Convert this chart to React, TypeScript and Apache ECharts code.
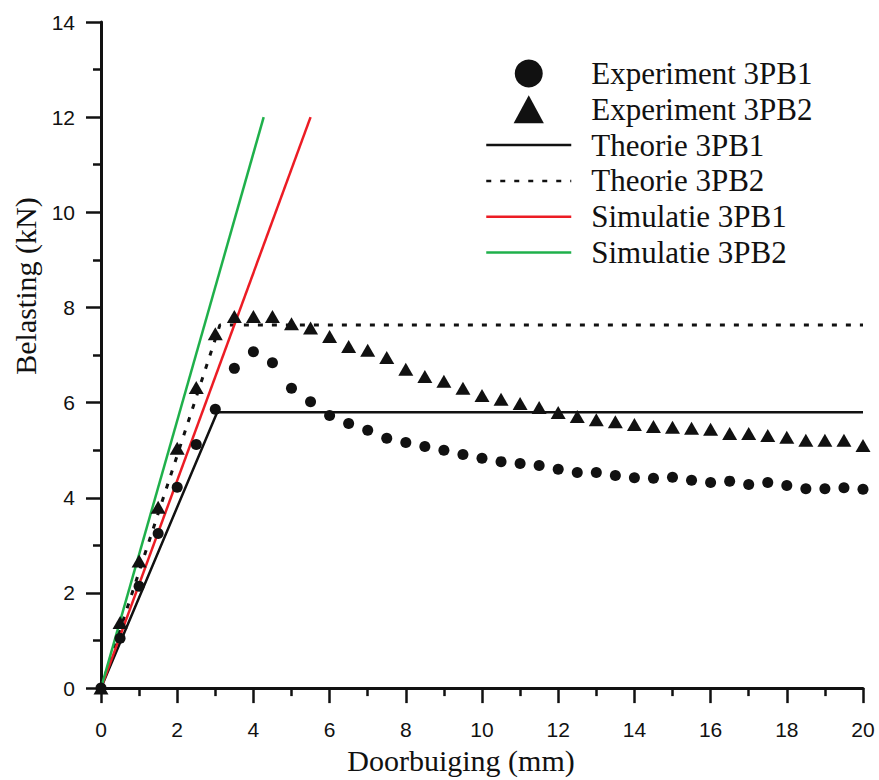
import React, { useEffect, useRef } from "react";
import * as echarts from "echarts";

// Deflection (mm) at which the experimental points were recorded
const expDeflection = [
  0, 0.5, 1, 1.5, 2, 2.5, 3, 3.5, 4, 4.5, 5, 5.5, 6, 6.5, 7, 7.5, 8, 8.5, 9, 9.5,
  10, 10.5, 11, 11.5, 12, 12.5, 13, 13.5, 14, 14.5, 15, 15.5, 16, 16.5, 17, 17.5,
  18, 18.5, 19, 19.5, 20,
];
// Experiment 3PB1 load (kN)
const exp1Load = [
  0, 1.05, 2.14, 3.25, 4.22, 5.12, 5.86, 6.72, 7.07, 6.84, 6.3, 6.02, 5.73, 5.56,
  5.42, 5.25, 5.16, 5.08, 5.0, 4.91, 4.83, 4.76, 4.72, 4.68, 4.6, 4.53, 4.53, 4.47,
  4.42, 4.41, 4.43, 4.37, 4.32, 4.35, 4.28, 4.32, 4.26, 4.19, 4.19, 4.21, 4.18,
];
// Experiment 3PB2 load (kN)
const exp2Load = [
  0, 1.38, 2.67, 3.8, 5.04, 6.32, 7.45, 7.81, 7.81, 7.81, 7.66, 7.57, 7.39, 7.18,
  7.1, 6.95, 6.7, 6.55, 6.45, 6.3, 6.15, 6.07, 5.98, 5.9, 5.79, 5.71, 5.64, 5.6,
  5.54, 5.5, 5.48, 5.46, 5.44, 5.35, 5.35, 5.31, 5.27, 5.21, 5.21, 5.21, 5.1,
];
// Theory & simulation polylines [deflection, load]
const theorie1 = [[0, 0], [3.05, 5.8], [20, 5.8]];
const theorie2 = [[0, 0], [3.12, 7.63], [20, 7.63]];
const simulatie1 = [[0, 0], [5.5, 12.0]];
const simulatie2 = [[0, 0], [4.27, 12.0]];

const seriesNames = [
  "Experiment 3PB1",
  "Experiment 3PB2",
  "Theorie 3PB1",
  "Theorie 3PB2",
  "Simulatie 3PB1",
  "Simulatie 3PB2",
];

const INK = "#111111";
const RED = "#ec1c24";
const GREEN = "#1fb04b";
const SERIF = "'Liberation Serif', 'Times New Roman', serif";
const SANS = "'Liberation Sans', Arial, sans-serif";

export default function App() {
  const ref = useRef<HTMLDivElement>(null);

  useEffect(() => {
    if (!ref.current) return;
    const chart = echarts.init(ref.current, undefined, { renderer: "svg" });

    const axisCommon = {
      type: "value" as const,
      axisLine: { show: true, onZero: false, lineStyle: { color: INK, width: 3 } },
      axisTick: { show: true, inside: false, length: 15, lineStyle: { color: INK, width: 2.5 } },
      minorTick: { show: true, splitNumber: 2, length: 8, lineStyle: { color: INK, width: 2.5 } },
      splitLine: { show: false },
      minorSplitLine: { show: false },
    };

    const option = {
      animation: false,
      backgroundColor: "#ffffff",
      grid: { left: 101, right: 16, top: 22, bottom: 90, containLabel: false },
      xAxis: {
        ...axisCommon,
        min: 0,
        max: 20,
        interval: 2,
        name: "Doorbuiging (mm)",
        nameLocation: "middle",
        nameGap: 56,
        nameTextStyle: {
          fontFamily: SERIF,
          fontSize: 30,
          color: INK,
          padding: [0, 42, 0, 0],
        },
        axisLabel: { margin: 31, fontFamily: SANS, fontSize: 21, color: INK },
      },
      yAxis: {
        ...axisCommon,
        min: 0,
        max: 14,
        interval: 2,
        name: "Belasting (kN)",
        nameLocation: "middle",
        nameGap: 57,
        nameTextStyle: {
          fontFamily: SERIF,
          fontSize: 30,
          color: INK,
          padding: [0, 0, 0, 138],
        },
        axisLabel: { margin: 26, fontFamily: SANS, fontSize: 21, color: INK },
      },
      legend: {
        orient: "vertical",
        left: 485,
        top: 58,
        padding: 0,
        itemGap: 4.8,
        itemWidth: 85,
        itemHeight: 28,
        selectedMode: false,
        formatter: (name: string) => "{t|" + name + "}",
        textStyle: {
          color: INK,
          fontFamily: SERIF,
          fontSize: 31,
          rich: {
            t: { padding: [0, 0, 0, 15], fontFamily: SERIF, fontSize: 31, color: INK },
          },
        },
        lineStyle: { width: 2.5 },
        data: [
          { name: seriesNames[0], itemStyle: { opacity: 1 } },
          { name: seriesNames[1], icon: "path://M0,25L13.5,0L27,25Z", itemStyle: { opacity: 1 } },
          { name: seriesNames[2], itemStyle: { opacity: 0 } },
          { name: seriesNames[3], itemStyle: { opacity: 0 } },
          { name: seriesNames[4], itemStyle: { opacity: 0 } },
          { name: seriesNames[5], itemStyle: { opacity: 0 } },
        ],
      },
      series: [
        {
          name: seriesNames[2],
          type: "line",
          data: theorie1,
          symbol: "none",
          color: INK,
          lineStyle: { color: INK, width: 2.5 },
          z: 2,
        },
        {
          name: seriesNames[3],
          type: "line",
          data: theorie2,
          symbol: "none",
          color: INK,
          lineStyle: { color: INK, width: 3, type: [5, 9] },
          z: 2,
        },
        {
          name: seriesNames[4],
          type: "line",
          data: simulatie1,
          symbol: "none",
          color: RED,
          lineStyle: { color: RED, width: 2.5 },
          z: 2,
        },
        {
          name: seriesNames[5],
          type: "line",
          data: simulatie2,
          symbol: "none",
          color: GREEN,
          lineStyle: { color: GREEN, width: 2.5 },
          z: 2,
        },
        {
          name: seriesNames[0],
          type: "scatter",
          symbol: "circle",
          symbolSize: 11,
          color: INK,
          itemStyle: { color: INK, opacity: 1 },
          data: expDeflection.map((x, i) => [x, exp1Load[i]]),
          z: 3,
        },
        {
          name: seriesNames[1],
          type: "scatter",
          symbol: "triangle",
          symbolSize: [15, 13],
          color: INK,
          itemStyle: { color: INK, opacity: 1 },
          data: expDeflection.map((x, i) => [x, exp2Load[i]]),
          z: 3,
        },
      ],
    };

    chart.setOption(option as any);
    return () => chart.dispose();
  }, []);

  return (
    <div
      ref={ref}
      style={{ position: "fixed", left: 0, top: 0, width: 879, height: 780, background: "#fff" }}
    />
  );
}
